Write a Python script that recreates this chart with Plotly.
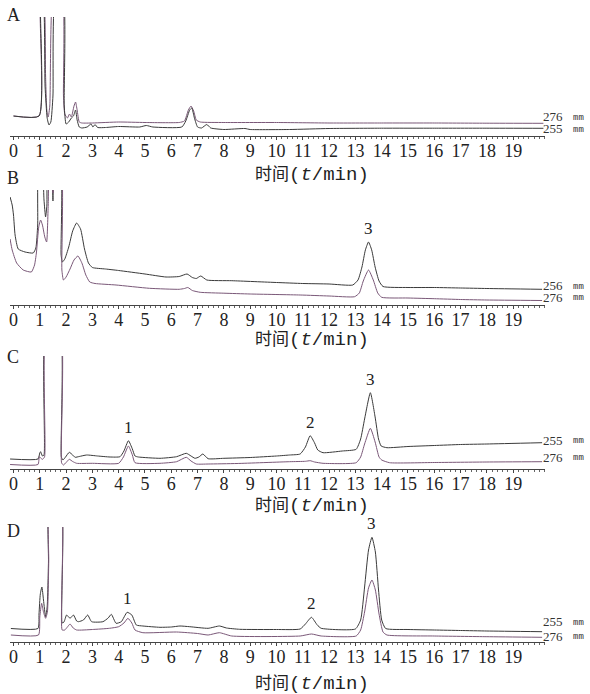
import plotly.graph_objects as go

# ---------------- data (time in min, intensity in arbitrary units) ----------------
A_t_276 = [0, 0.97, 1.03, 1.14, 1.22, 1.27, 1.32, 1.38, 1.5, 1.62, 1.85, 1.9, 1.95, 2.05, 2.13, 2.2, 2.3, 2.36, 2.42, 2.5, 2.6, 3.0, 4.0, 5.0, 6.3, 6.5, 6.65, 6.75, 6.85, 6.95, 7.1, 8.0, 10, 12, 14, 16, 18, 20.15]
A_i_276 = [20, 20, 140, 140, 60, 25, 19, 30, 140, 140, 140, 40, 22, 18, 22, 19, 30, 34, 26, 14, 13, 13, 14, 13.5, 13.5, 15, 26, 30, 25, 16, 14, 13.5, 13.5, 13, 13, 13, 12.8, 12.7]
A_t_255 = [0, 0.97, 1.04, 1.12, 1.2, 1.28, 1.35, 1.42, 1.5, 1.6, 1.88, 1.93, 2.0, 2.1, 2.2, 2.28, 2.36, 2.42, 2.5, 2.6, 2.8, 2.95, 3.02, 3.1, 3.2, 3.5, 4.0, 4.8, 5.05, 5.3, 6.4, 6.55, 6.7, 6.78, 6.88, 7.0, 7.15, 7.35, 7.5, 8.0, 8.8, 9.0, 10.5, 12, 14, 16, 18, 20.15]
A_i_255 = [20, 20, 140, 140, 50, 18, 11, 14, 40, 140, 140, 30, 12, 14, 18, 20, 26, 16, 9, 8, 9, 12, 9, 11.5, 8.5, 8.5, 9.5, 9, 10.5, 9, 9, 15, 26, 28, 18, 9, 8, 11.5, 8, 6.5, 7.5, 6.5, 6.5, 7.5, 7.8, 7.8, 7.8, 7.7]

B_t_256 = [-0.13, -0.05, 0.0, 0.06, 0.18, 0.44, 0.75, 0.85, 0.92, 0.96, 1.08, 1.16, 1.22, 1.27, 1.31, 1.46, 1.5, 1.54, 1.78, 1.81, 1.86, 1.95, 2.1, 2.25, 2.4, 2.55, 2.7, 2.85, 3.0, 3.5, 4.0, 5.0, 5.8, 6.3, 6.6, 6.8, 6.95, 7.12, 7.35, 8.3, 10.0, 11.0, 12.0, 12.9, 13.1, 13.25, 13.38, 13.5, 13.62, 13.75, 13.9, 14.05, 15, 16, 17, 18, 20.1]
B_i_256 = [108, 100, 90, 70, 56, 53, 52, 57, 80, 140, 140, 105, 88, 100, 140, 140, 104, 140, 140, 50, 43, 46, 58, 74, 82, 76, 56, 42, 37.5, 36, 34.5, 31, 28, 28.5, 31, 27.5, 26.5, 29, 25, 24.3, 22.5, 21.5, 21, 20, 25, 38, 55, 63, 55, 38, 24, 18.5, 17.5, 17.5, 17, 16.5, 15.7]
B_t_276 = [-0.13, -0.05, 0.12, 0.37, 0.68, 0.8, 0.87, 0.96, 1.03, 1.1, 1.19, 1.26, 1.32, 1.38, 1.46, 1.5, 1.54, 1.8, 1.84, 1.9, 2.0, 2.15, 2.3, 2.45, 2.6, 2.75, 2.9, 3.1, 3.9, 5.17, 6.3, 6.5, 6.63, 6.8, 7.1, 8, 9, 10.9, 12.0, 12.97, 13.15, 13.3, 13.5, 13.68, 13.85, 14.0, 15, 16, 17, 18, 20.1]
B_i_276 = [66, 55, 42, 35, 33, 40, 52, 78, 85, 80, 68, 63, 100, 140, 140, 112, 140, 140, 35, 25, 28, 36, 45, 49, 42, 30, 23, 21.5, 20, 16.7, 15.7, 16.5, 17.5, 14.5, 12.7, 11.8, 11, 10, 9, 8.3, 12, 24, 35, 25, 12, 7.7, 7, 6.3, 5.5, 5, 4.5]

C_t_255 = [-0.13, 0.93, 1.0, 1.03, 1.1, 1.16, 1.24, 1.76, 1.82, 1.88, 1.98, 2.12, 2.25, 2.34, 2.5, 2.78, 3.2, 3.67, 4.05, 4.2, 4.37, 4.52, 4.62, 4.75, 5.57, 6.2, 6.57, 6.75, 6.9, 7.05, 7.2, 7.4, 8.0, 9.0, 10.0, 10.5, 10.9, 11.1, 11.28, 11.45, 11.57, 11.77, 12.5, 13.03, 13.2, 13.35, 13.57, 13.75, 13.88, 13.98, 14.2, 15, 16, 17, 18, 20.1]
C_i_255 = [10, 10, 16, 17.3, 13, 14, 140, 140, 12, 9, 12, 16.7, 14, 11.7, 12.5, 14, 13, 12, 12.3, 18, 28.3, 20, 13, 12, 10.7, 12.3, 15.7, 13, 10.7, 12, 15, 10.3, 10.7, 11.5, 13, 14, 15, 22, 33.3, 26, 19, 16.3, 18, 19.7, 30, 50, 76.3, 52, 30, 23, 21.3, 22.5, 23.5, 24.5, 25, 26.3]
C_t_276 = [-0.13, 0.93, 0.98, 1.03, 1.1, 1.18, 1.26, 1.78, 1.83, 1.9, 2.0, 2.12, 2.25, 2.4, 3.0, 4.0, 4.18, 4.37, 4.52, 4.62, 5.57, 6.2, 6.57, 6.75, 6.95, 7.4, 8.5, 10.5, 11.1, 11.28, 11.45, 11.77, 13.03, 13.2, 13.35, 13.57, 13.75, 13.9, 14.0, 14.3, 16, 18, 20.1]
C_i_276 = [4.5, 4.5, 12.3, 11, 9.7, 12, 140, 140, 6, 4, 6.5, 9.7, 7.5, 5.7, 5.7, 5.7, 12, 23, 14, 6.3, 5.7, 7.3, 11.7, 8, 5, 5, 5.5, 7.3, 7.7, 8.3, 7, 5.7, 6.3, 12, 25, 40.7, 27, 12, 9, 6.3, 6.5, 7, 7.3]

D_t_255 = [-0.1, 0.93, 0.97, 1.02, 1.08, 1.14, 1.22, 1.28, 1.33, 1.37, 1.8, 1.85, 1.92, 2.02, 2.15, 2.28, 2.4, 2.47, 2.66, 2.82, 2.97, 3.4, 3.6, 3.72, 3.9, 4.1, 4.32, 4.5, 4.67, 4.92, 5.57, 6.0, 6.33, 6.7, 7.4, 7.83, 8.1, 8.6, 10.0, 10.9, 11.1, 11.33, 11.55, 11.7, 13.0, 13.2, 13.35, 13.5, 13.63, 13.76, 13.88, 14.0, 14.15, 15, 16, 17, 18, 20.1]
D_i_255 = [13.5, 13.5, 28, 48, 55, 42, 25.3, 35, 80, 140, 140, 19, 20, 27, 23.7, 27, 21, 20.3, 22, 27, 20.3, 20.3, 24, 27.7, 18.7, 20.3, 29.7, 27, 17, 16, 14.7, 15, 16, 15.3, 13.7, 16, 14, 12.7, 12.5, 13, 18, 24.7, 17, 13.7, 13, 22, 55, 92, 104.7, 90, 52, 22, 13.5, 12.5, 12, 11.5, 11, 10.3]
D_t_276 = [-0.1, 0.95, 1.0, 1.07, 1.14, 1.22, 1.29, 1.34, 1.38, 1.8, 1.85, 1.95, 2.05, 2.15, 2.27, 2.4, 3.0, 3.65, 4.0, 4.2, 4.35, 4.5, 4.62, 4.92, 6.2, 7.0, 7.4, 7.83, 8.3, 10.9, 11.33, 11.7, 13.03, 13.2, 13.35, 13.5, 13.63, 13.76, 13.9, 14.05, 14.2, 16, 18, 20.1]
D_i_276 = [7, 7, 25, 38.7, 30, 23.7, 30, 80, 140, 140, 12, 12, 15, 18, 14, 12, 12.5, 13.7, 15.3, 19, 23.7, 19, 12, 9.3, 10, 8.5, 7, 9.3, 6, 6, 8, 6, 6, 12, 30, 54, 62, 52, 28, 10, 7, 6, 5.3, 4.7]

tick_vals = list(range(20))
tick_text = [str(v) for v in tick_vals]
panel_letters = ["A", "B", "C", "D"]
wave_labels = [("276", "255"), ("256", "276"), ("255", "276"), ("255", "276")]
peak_labels = {
    "B": [("3", 13.5, 63)],
    "C": [("1", 4.37, 28.3), ("2", 11.28, 33.3), ("3", 13.57, 76.3)],
    "D": [("1", 4.32, 29.7), ("2", 11.33, 24.7), ("3", 13.63, 104.7)],
}

# ---------------- layout helpers ----------------
W, H = 590, 694
def px(x):
    return x / W
def py(y):
    return 1 - y / H

DARK = "#3a3a3a"
PURPLE = "#7a5878"
SERIF = "Liberation Serif"

panels = [
    ("A", 136, 17, [(A_t_276, A_i_276, PURPLE), (A_t_255, A_i_255, DARK)], (116.5, 128.5), 173, 15),
    ("B", 305, 190, [(B_t_256, B_i_256, DARK), (B_t_276, B_i_276, PURPLE)], (285.5, 297), 338, 178),
    ("C", 469, 356, [(C_t_255, C_i_255, DARK), (C_t_276, C_i_276, PURPLE)], (440, 457), 504, 357),
    ("D", 642, 527, [(D_t_255, D_i_255, DARK), (D_t_276, D_i_276, PURPLE)], (621.5, 636), 682, 531),
]

fig = go.Figure()
annotations = []
x_left, x_right = 10, 545
t_left, t_right = -0.133, 20.21

for k, (letter, ay, ty, traces, wl_ys, title_y, letter_y) in enumerate(panels):
    n = k + 1
    xa = "x" if n == 1 else f"x{n}"
    ya = "y" if n == 1 else f"y{n}"
    for (t, i, col) in traces:
        fig.add_trace(go.Scatter(x=t, y=i, mode="lines", xaxis=xa, yaxis=ya,
                                 line=dict(color=col, width=1, shape="spline", smoothing=0.5),
                                 showlegend=False, hoverinfo="skip"))
    height = ay - ty
    fig.layout[f"xaxis{'' if n == 1 else n}"] = dict(
        domain=[px(x_left), px(x_right)], range=[t_left, t_right], anchor=ya,
        showline=True, linecolor="#444", linewidth=1,
        ticks="outside", ticklen=3, tickcolor="#444", tickwidth=1,
        ticklabelstandoff=-5,
        tickvals=tick_vals, ticktext=tick_text,
        tickfont=dict(family=SERIF, size=18, color="#222"),
        minor=dict(dtick=0.2, tick0=0, ticks="outside", ticklen=2, tickcolor="#666"),
        showgrid=False, zeroline=False, fixedrange=True)
    fig.layout[f"yaxis{'' if n == 1 else n}"] = dict(
        domain=[py(ay), py(ty)], range=[0, height], anchor=xa, visible=False, fixedrange=True)

    annotations.append(dict(x=px(13), y=py(letter_y), xref="paper", yref="paper", text=letter,
                            showarrow=False, xanchor="center", yanchor="middle",
                            font=dict(family=SERIF, size=18, color="#222")))
    annotations.append(dict(x=px(312), y=py(title_y), xref="paper", yref="paper",
                            text="时间<span style='font-family:Liberation Mono;font-size:19px'>(<i>t</i>/min)</span>",
                            showarrow=False, xanchor="center", yanchor="middle",
                            font=dict(family="Noto Sans CJK SC", size=17, color="#222")))
    for wl, yy in zip(wave_labels[k], wl_ys):
        annotations.append(dict(x=px(541), y=py(yy), xref="paper", yref="paper",
                                text=wl, showarrow=False, xanchor="left", yanchor="middle",
                                font=dict(family=SERIF, size=13, color="#333")))
        annotations.append(dict(x=px(571), y=py(yy + 1), xref="paper", yref="paper",
                                text="mm", showarrow=False, xanchor="left", yanchor="middle",
                                font=dict(family="Liberation Mono", size=9, color="#333")))
    for (lab, pt, pv) in peak_labels.get(letter, []):
        annotations.append(dict(x=pt, y=pv, xref=xa, yref=ya, text=lab, showarrow=False,
                                xanchor="center", yanchor="bottom", yshift=2,
                                font=dict(family=SERIF, size=17, color="#222")))

fig.update_layout(width=W, height=H, margin=dict(l=0, r=0, t=0, b=0),
                  paper_bgcolor="white", plot_bgcolor="rgba(0,0,0,0)",
                  annotations=annotations)
fig.write_html("out.html", config={"displayModeBar": False},
               post_script="document.body.style.margin='0';")
